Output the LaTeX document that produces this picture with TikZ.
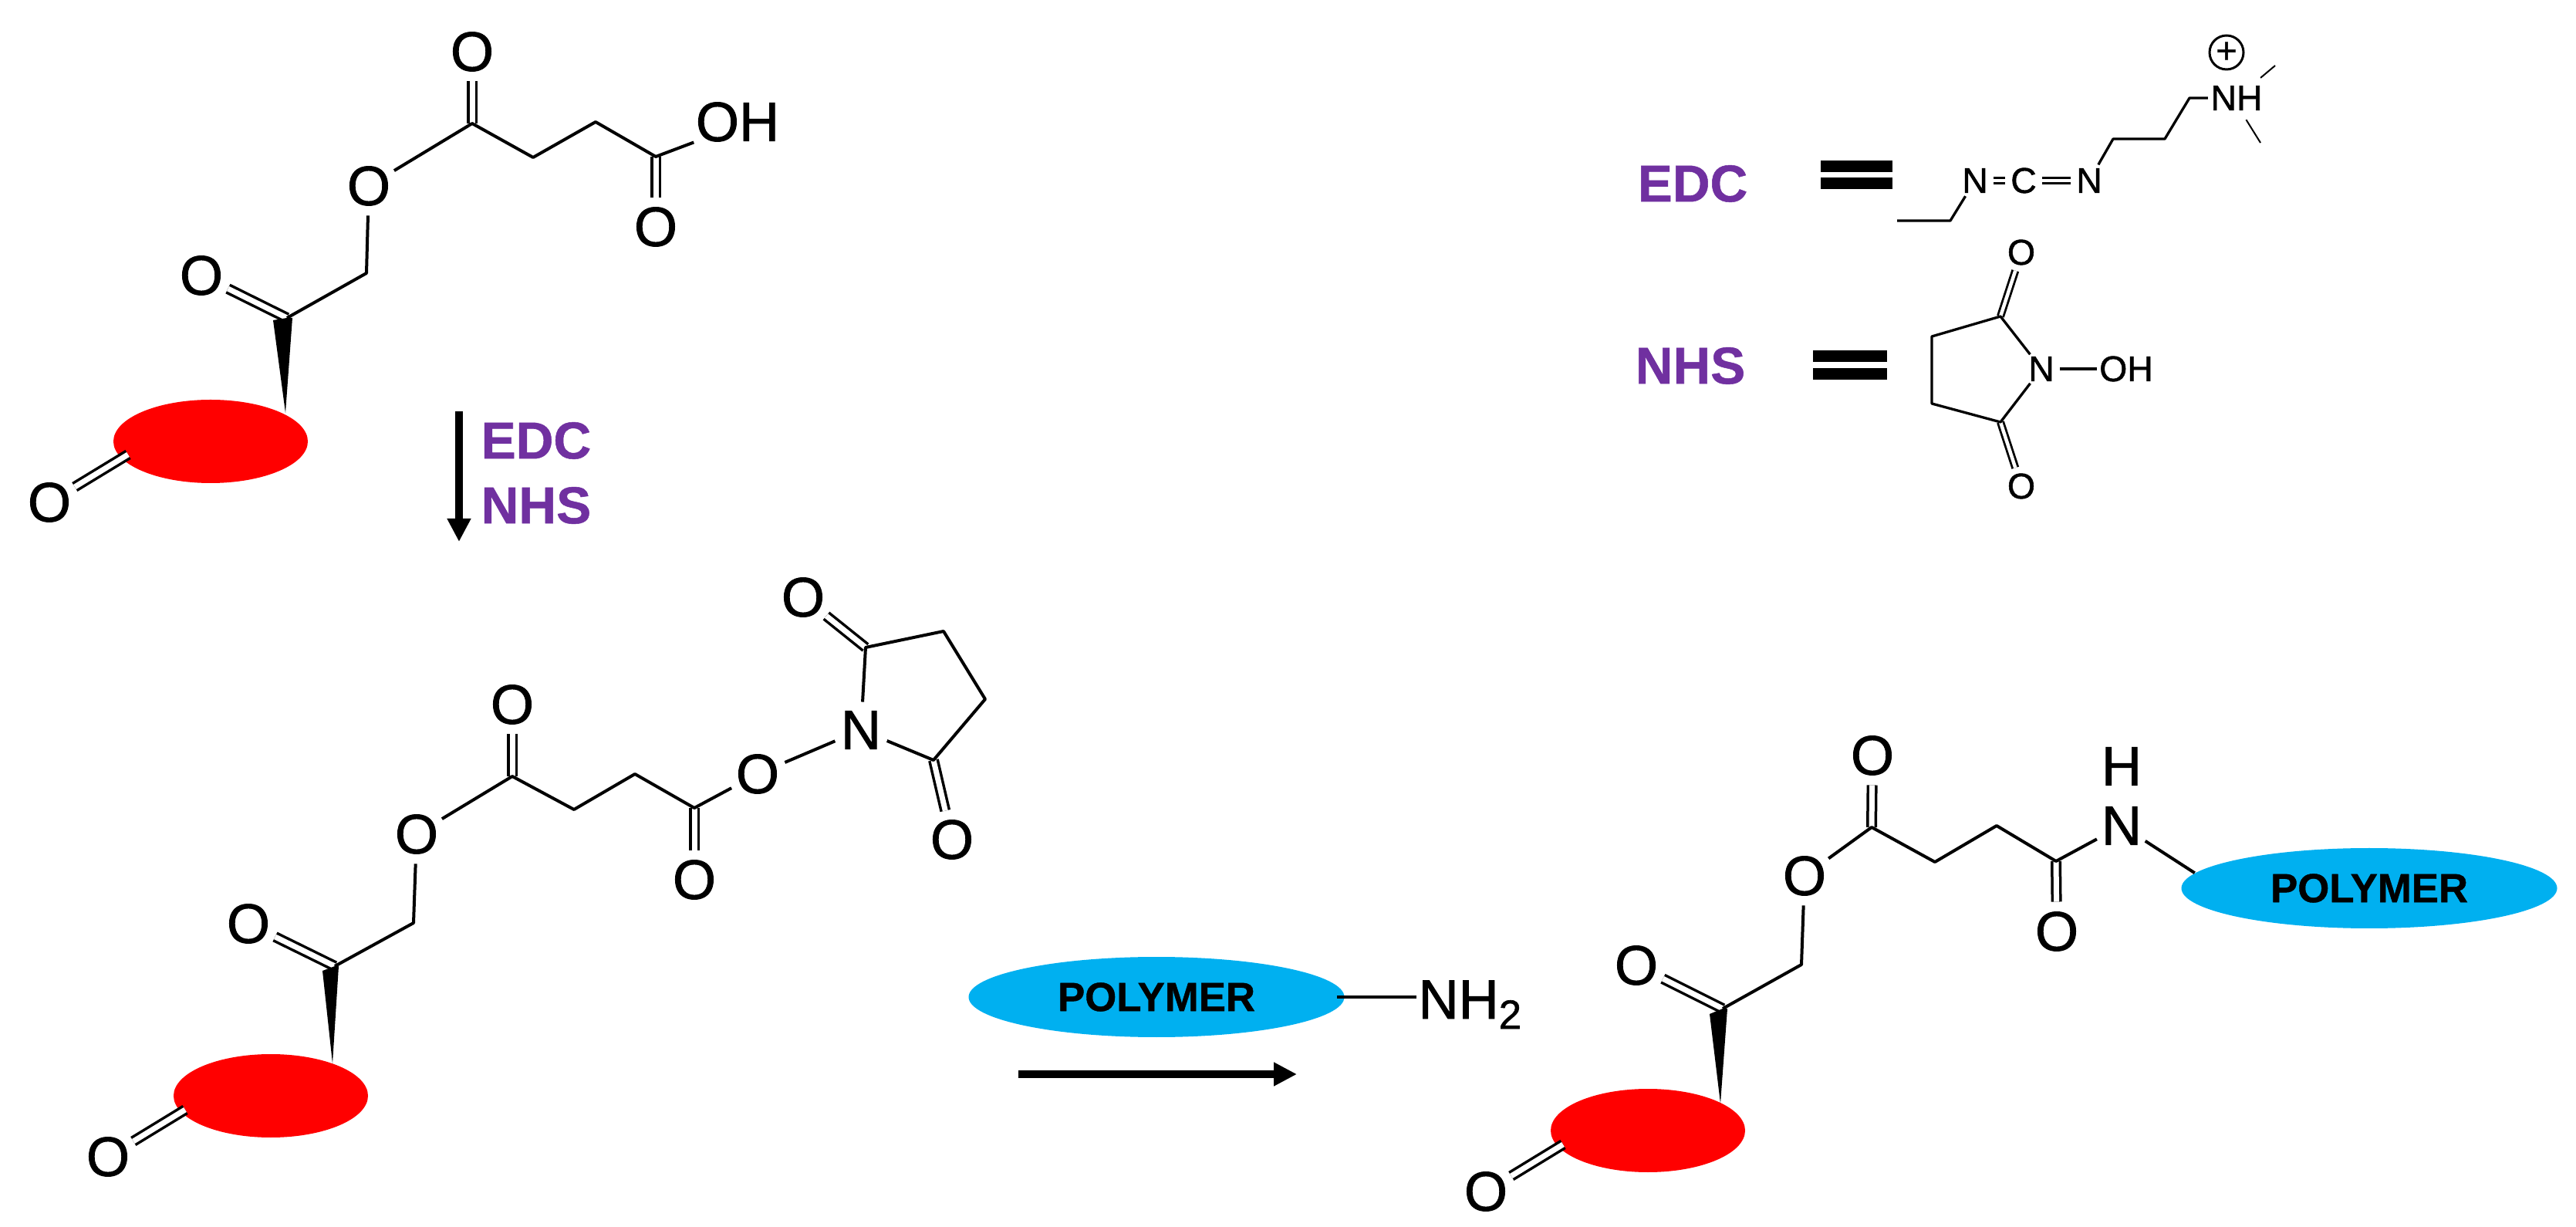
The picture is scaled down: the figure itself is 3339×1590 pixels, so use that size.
\documentclass[tikz,border=0pt]{standalone}
\usepackage{fontspec}
\setmainfont{Liberation Sans}
\newfontfamily\chemfont[FakeBold=1.2]{Liberation Sans}
\newfontfamily\heavyfont[FakeBold=0.8,BoldFont={Liberation Sans Bold}]{Liberation Sans Bold}
\usetikzlibrary{arrows.meta, shapes.geometric}

\definecolor{purp}{HTML}{7030A0}
\definecolor{polyblue}{HTML}{00B0F0}

\tikzset{
  atom/.style={circle, inner sep=0pt, font=\fontsize{20.5}{24}\chemfont\selectfont},
  group/.style={inner sep=0.2mm, font=\fontsize{20.5}{24}\chemfont\selectfont},
  satom/.style={circle, inner sep=0mm, font=\fontsize{13.2}{15}\chemfont\selectfont},
  sgroup/.style={inner sep=0.3mm, font=\fontsize{13.2}{15}\chemfont\selectfont},
  bond/.style={line width=0.4mm, line join=round},
  dbond/.style={line width=0.35mm, double, double distance=0.7mm},
  sbond/.style={line width=0.33mm, line join=round},
  sdbond/.style={line width=0.28mm, double, double distance=0.45mm},
  rxn/.style={line width=1mm, -{Triangle[length=3mm,width=2.9mm]}},
  eqbar/.style={line width=1.5mm},
  lbl/.style={text=purp, font=\fontsize{19.2}{23}\heavyfont\selectfont},
  core/.style={ellipse, fill=red, inner sep=0pt, minimum width=25.2mm, minimum height=10.8mm},
  polym/.style={ellipse, fill=polyblue, inner sep=0pt, minimum width=48.7mm, minimum height=10.4mm,
    font=\fontsize{15}{17}\heavyfont\selectfont},
}

\begin{document}
\begin{tikzpicture}[x=0.1mm, y=-0.1mm]
\useasboundingbox (0,0) rectangle (3339,1590);

% starting acid
\node (aR)[core] at (273,572) {};
\node (aO1)[atom] at (612,67) {O};
\node (aO2)[atom] at (478,241) {O};
\node (aO3)[atom] at (850,294) {O};
\node (aO4)[atom] at (261,357) {O};
\node (aO5)[atom] at (64,651) {O};
\node (aOH)[group] at (956,158) {OH};
\coordinate (aC1) at (612,160);
\coordinate (aC2) at (691,204);
\coordinate (aC3) at (772,158);
\coordinate (aC4) at (850,203);
\coordinate (aC5) at (475,354);
\coordinate (aC6) at (372,412);
\coordinate (aE) at (166,589);

\draw[dbond] (aC1) -- (aO1);
\draw[dbond] (aC4) -- (aO3);
\draw[dbond] (aC6) -- (aO4);
\draw[dbond] (aE) -- (aO5);
\draw[bond] (aO2) -- (aC1) -- (aC2) -- (aC3) -- (aC4) -- (aOH.205);
\draw[bond] (aO2) -- (aC5) -- (aC6);
\fill (354,415) -- (aC6) -- (379,412) -- (370,535) -- cycle;

% activation arrow
\coordinate (r1s) at (595,533);
\coordinate (r1e) at (595,702);
\draw[rxn] (r1s) -- (r1e);
\node (r1a)[lbl, anchor=west, inner sep=0pt] at (623,571) {EDC};
\node (r1b)[lbl, anchor=west, inner sep=0pt] at (623,655) {NHS};

% EDC
\node (eL)[lbl] at (2194,238) {EDC};
\draw[eqbar] (2360,216) -- (2453,216);
\draw[eqbar] (2360,238) -- (2453,238);
\node (eN1)[satom] at (2560,234) {N};
\node (eC)[satom] at (2623,234) {C};
\node (eN2)[satom] at (2708,234) {N};
\node (eNH)[sgroup] at (2899,127) {NH};
\node (ePl)[circle, draw, line width=0.3mm, inner sep=0pt, minimum size=4.4mm,
  font=\fontsize{13.2}{15}\chemfont\selectfont] at (2886,68) {+};
\coordinate (eC1) at (2739,180);
\coordinate (eC2) at (2806,180);
\coordinate (eC3) at (2838,127);
\coordinate (eC4) at (2528,286);
\coordinate (eC5) at (2459,286);
\coordinate (eM1) at (2949,85);
\coordinate (eM2) at (2930,185);

\draw[sdbond] (eN1) -- (eC);
\draw[sdbond] (eC) -- (eN2);
\draw[sbond] (eN2) -- (eC1) -- (eC2) -- (eC3) -- (eNH);
\draw[sbond] (eN1) -- (eC4) -- (eC5);
\draw[line width=0.2mm, shorten <=1mm] (eNH.40) -- (eM1);
\draw[line width=0.2mm, shorten <=1mm] (eNH.-70) -- (eM2);

% NHS
\node (nL)[lbl] at (2191,474) {NHS};
\draw[eqbar] (2350,462) -- (2446,462);
\draw[eqbar] (2350,485) -- (2446,485);
\node (nN)[satom] at (2646,478) {N};
\node (nOH)[sgroup] at (2756,478) {OH};
\node (nO1)[satom] at (2620,327) {O};
\node (nO2)[satom] at (2620,630) {O};
\coordinate (nC1) at (2593,410);
\coordinate (nC2) at (2504,436);
\coordinate (nC3) at (2504,523);
\coordinate (nC4) at (2593,547);

\draw[sdbond] (nC1) -- (nO1);
\draw[sdbond] (nC4) -- (nO2);
\draw[sbond] (nN) -- (nC1) -- (nC2) -- (nC3) -- (nC4) -- (nN);
\draw[sbond] (nN) -- (nOH);

% activated ester
\node (bR)[core] at (351,1420) {};
\node (bO1)[atom] at (664,913) {O};
\node (bO2)[atom] at (540,1081) {O};
\node (bO3)[atom] at (900,1140) {O};
\node (bO4)[atom] at (322,1197) {O};
\node (bO5)[atom] at (140,1499) {O};
\node (bO6)[atom] at (982,1003) {O};
\node (bO7)[atom] at (1041,774) {O};
\node (bO8)[atom] at (1234,1088) {O};
\node (bN)[atom] at (1116,946) {N};
\coordinate (bC1) at (664,1006);
\coordinate (bC2) at (744,1049);
\coordinate (bC3) at (823,1003);
\coordinate (bC4) at (900,1047);
\coordinate (bC5) at (536,1196);
\coordinate (bC6) at (434,1252);
\coordinate (bC7) at (1122,839);
\coordinate (bC8) at (1223,818);
\coordinate (bC9) at (1277,906);
\coordinate (bC10) at (1210,985);
\coordinate (bE) at (240,1438);

\draw[dbond] (bC1) -- (bO1);
\draw[dbond] (bC4) -- (bO3);
\draw[dbond] (bC6) -- (bO4);
\draw[dbond] (bC7) -- (bO7);
\draw[dbond] (bC10) -- (bO8);
\draw[dbond] (bE) -- (bO5);
\draw[bond] (bO2) -- (bC1) -- (bC2) -- (bC3) -- (bC4) -- (bO6) -- (bN);
\draw[bond] (bN) -- (bC7) -- (bC8) -- (bC9) -- (bC10) -- (bN);
\draw[bond] (bO2) -- (bC5) -- (bC6);
\fill (418,1258) -- (bC6) -- (439,1252) -- (431,1378) -- cycle;

% polymer step
\node (pP)[polym] at (1499,1292) {POLYMER};
\node (pN)[group, anchor=base west] at (1836,1320) {NH\raisebox{-1.3mm}{\fontsize{15}{15}\chemfont\selectfont 2}};
\draw[bond] ([xshift=-1mm]pP.east) -- (pP.east -| pN.west);
\coordinate (r2s) at (1320,1392);
\coordinate (r2e) at (1681,1392);
\draw[rxn] (r2s) -- (r2e);

% product
\node (cR)[core] at (2136,1465) {};
\node (cP)[polym] at (3071,1151) {POLYMER};
\node (cO1)[atom] at (2427,979) {O};
\node (cO2)[atom] at (2339,1135) {O};
\node (cO3)[atom] at (2666,1207) {O};
\node (cO4)[atom] at (2121,1251) {O};
\node (cO5)[atom] at (1926,1544) {O};
\node (cN)[atom] at (2750,1070) {N};
\node (cH)[atom] at (2750,993) {H};
\coordinate (cC1) at (2426,1072);
\coordinate (cC2) at (2508,1117);
\coordinate (cC3) at (2588,1070);
\coordinate (cC4) at (2665,1116);
\coordinate (cC5) at (2335,1250);
\coordinate (cC6) at (2233,1307);
\coordinate (cE) at (2026,1483);

\draw[dbond] (cC1) -- (cO1);
\draw[dbond] (cC4) -- (cO3);
\draw[dbond] (cC6) -- (cO4);
\draw[dbond] (cE) -- (cO5);
\draw[bond] (cO2) -- (cC1) -- (cC2) -- (cC3) -- (cC4) -- (cN) -- (cP.175);
\draw[bond] (cO2) -- (cC5) -- (cC6);
\fill (2216,1314) -- (cC6) -- (2239,1307) -- (2230,1430) -- cycle;

\end{tikzpicture}
\end{document}
